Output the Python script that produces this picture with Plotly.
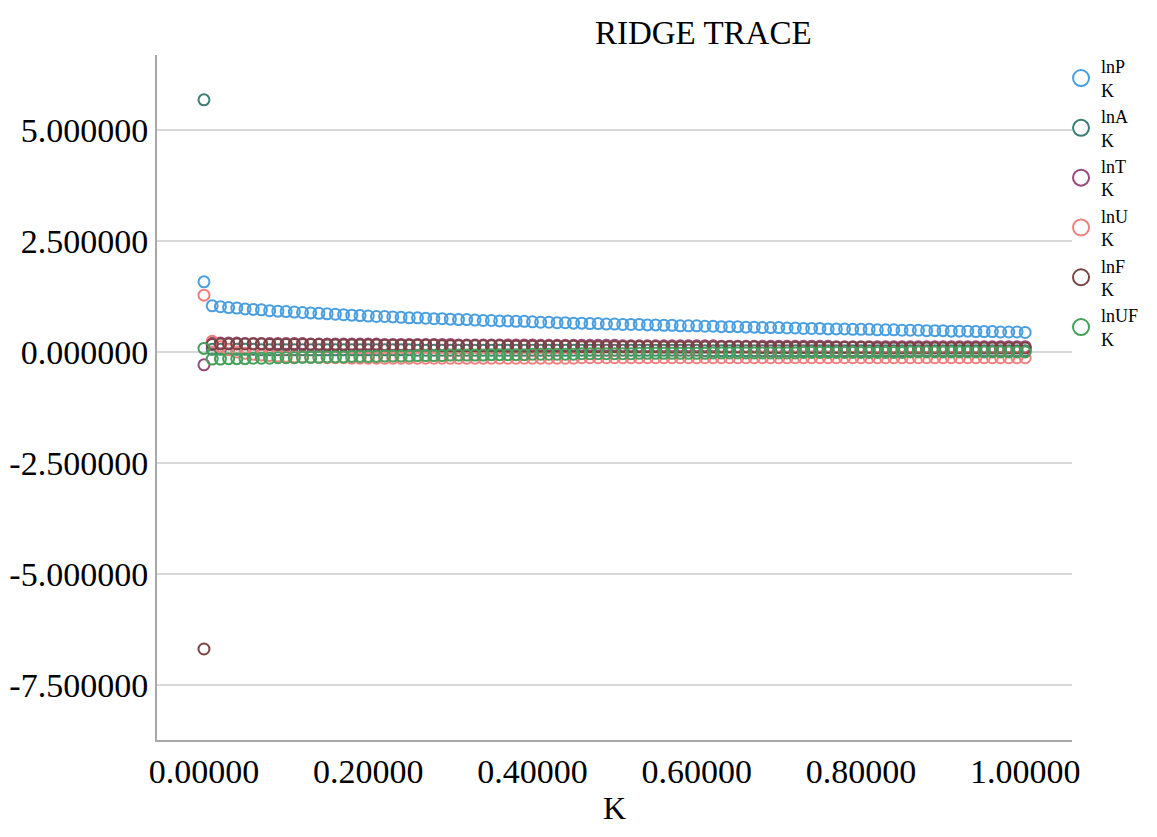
import plotly.graph_objects as go

K = [0.00, 0.01, 0.02, 0.03, 0.04, 0.05, 0.06, 0.07, 0.08, 0.09,
     0.10, 0.11, 0.12, 0.13, 0.14, 0.15, 0.16, 0.17, 0.18, 0.19,
     0.20, 0.21, 0.22, 0.23, 0.24, 0.25, 0.26, 0.27, 0.28, 0.29,
     0.30, 0.31, 0.32, 0.33, 0.34, 0.35, 0.36, 0.37, 0.38, 0.39,
     0.40, 0.41, 0.42, 0.43, 0.44, 0.45, 0.46, 0.47, 0.48, 0.49,
     0.50, 0.51, 0.52, 0.53, 0.54, 0.55, 0.56, 0.57, 0.58, 0.59,
     0.60, 0.61, 0.62, 0.63, 0.64, 0.65, 0.66, 0.67, 0.68, 0.69,
     0.70, 0.71, 0.72, 0.73, 0.74, 0.75, 0.76, 0.77, 0.78, 0.79,
     0.80, 0.81, 0.82, 0.83, 0.84, 0.85, 0.86, 0.87, 0.88, 0.89,
     0.90, 0.91, 0.92, 0.93, 0.94, 0.95, 0.96, 0.97, 0.98, 0.99,
     1.00]

lnP = [1.58,
       1.04, 1.02, 1.00, 0.99, 0.97, 0.96, 0.95, 0.93, 0.92, 0.91,
       0.90, 0.89, 0.88, 0.87, 0.86, 0.85, 0.84, 0.83, 0.82, 0.81,
       0.80, 0.80, 0.79, 0.78, 0.77, 0.77, 0.76, 0.75, 0.75, 0.74,
       0.73, 0.73, 0.72, 0.71, 0.71, 0.70, 0.70, 0.69, 0.69, 0.68,
       0.67, 0.67, 0.66, 0.66, 0.65, 0.65, 0.64, 0.64, 0.63, 0.63,
       0.62, 0.62, 0.62, 0.61, 0.61, 0.60, 0.60, 0.59, 0.59, 0.59,
       0.58, 0.58, 0.57, 0.57, 0.57, 0.56, 0.56, 0.55, 0.55, 0.55,
       0.54, 0.54, 0.53, 0.53, 0.53, 0.52, 0.52, 0.52, 0.51, 0.51,
       0.51, 0.50, 0.50, 0.50, 0.49, 0.49, 0.49, 0.48, 0.48, 0.48,
       0.47, 0.47, 0.47, 0.46, 0.46, 0.46, 0.45, 0.45, 0.45, 0.44]

lnA = [5.68,
       0.06, 0.06, 0.06, 0.06, 0.06, 0.06, 0.05, 0.05, 0.05, 0.05,
       0.05, 0.05, 0.05, 0.05, 0.05, 0.05, 0.05, 0.05, 0.05, 0.05,
       0.05, 0.05, 0.05, 0.05, 0.05, 0.04, 0.04, 0.04, 0.04, 0.04,
       0.04, 0.04, 0.04, 0.04, 0.04, 0.04, 0.04, 0.04, 0.04, 0.04,
       0.04, 0.04, 0.04, 0.04, 0.04, 0.04, 0.04, 0.04, 0.04, 0.04,
       0.04, 0.04, 0.04, 0.04, 0.04, 0.04, 0.04, 0.04, 0.04, 0.04,
       0.03, 0.03, 0.03, 0.03, 0.03, 0.03, 0.03, 0.03, 0.03, 0.03,
       0.03, 0.03, 0.03, 0.03, 0.03, 0.03, 0.03, 0.03, 0.03, 0.03,
       0.03, 0.03, 0.03, 0.03, 0.03, 0.03, 0.03, 0.03, 0.03, 0.03,
       0.03, 0.03, 0.03, 0.03, 0.03, 0.03, 0.03, 0.03, 0.03, 0.03]

lnT = [-0.29,
       0.20, 0.20, 0.20, 0.20, 0.19, 0.19, 0.19, 0.19, 0.19, 0.19,
       0.19, 0.19, 0.18, 0.18, 0.18, 0.18, 0.18, 0.18, 0.18, 0.18,
       0.18, 0.17, 0.17, 0.17, 0.17, 0.17, 0.17, 0.17, 0.17, 0.17,
       0.16, 0.16, 0.16, 0.16, 0.16, 0.16, 0.16, 0.16, 0.16, 0.16,
       0.15, 0.15, 0.15, 0.15, 0.15, 0.15, 0.15, 0.15, 0.15, 0.15,
       0.14, 0.14, 0.14, 0.14, 0.14, 0.14, 0.14, 0.14, 0.14, 0.14,
       0.14, 0.14, 0.13, 0.13, 0.13, 0.13, 0.13, 0.13, 0.13, 0.13,
       0.13, 0.13, 0.13, 0.13, 0.13, 0.13, 0.12, 0.12, 0.12, 0.12,
       0.12, 0.12, 0.12, 0.12, 0.12, 0.12, 0.12, 0.12, 0.12, 0.12,
       0.12, 0.12, 0.12, 0.12, 0.12, 0.12, 0.12, 0.12, 0.12, 0.12]

lnU = [1.28,
       0.24, 0.12, 0.05, 0.00, -0.03, -0.05, -0.07, -0.08, -0.09, -0.10,
       -0.11, -0.11, -0.12, -0.12, -0.13, -0.13, -0.13, -0.14, -0.14, -0.14,
       -0.14, -0.14, -0.14, -0.14, -0.14, -0.14, -0.14, -0.14, -0.14, -0.14,
       -0.14, -0.14, -0.14, -0.14, -0.14, -0.14, -0.14, -0.14, -0.14, -0.14,
       -0.14, -0.14, -0.14, -0.14, -0.14, -0.13, -0.13, -0.13, -0.13, -0.13,
       -0.13, -0.13, -0.13, -0.13, -0.13, -0.13, -0.13, -0.13, -0.13, -0.13,
       -0.13, -0.13, -0.13, -0.13, -0.13, -0.13, -0.13, -0.13, -0.13, -0.13,
       -0.13, -0.13, -0.13, -0.13, -0.13, -0.13, -0.13, -0.13, -0.13, -0.13,
       -0.13, -0.13, -0.13, -0.13, -0.13, -0.13, -0.13, -0.13, -0.13, -0.13,
       -0.13, -0.13, -0.13, -0.13, -0.13, -0.13, -0.13, -0.13, -0.13, -0.13]

lnF = [-6.69,
       0.17, 0.18, 0.18, 0.18, 0.18, 0.18, 0.18, 0.17, 0.17, 0.17,
       0.17, 0.17, 0.17, 0.17, 0.16, 0.16, 0.16, 0.16, 0.16, 0.16,
       0.16, 0.15, 0.15, 0.15, 0.15, 0.15, 0.15, 0.15, 0.14, 0.14,
       0.14, 0.14, 0.14, 0.14, 0.14, 0.14, 0.13, 0.13, 0.13, 0.13,
       0.13, 0.13, 0.13, 0.13, 0.13, 0.12, 0.12, 0.12, 0.12, 0.12,
       0.12, 0.12, 0.12, 0.12, 0.12, 0.11, 0.11, 0.11, 0.11, 0.11,
       0.11, 0.11, 0.11, 0.11, 0.11, 0.11, 0.11, 0.10, 0.10, 0.10,
       0.10, 0.10, 0.10, 0.10, 0.10, 0.10, 0.10, 0.10, 0.10, 0.10,
       0.10, 0.09, 0.09, 0.09, 0.09, 0.09, 0.09, 0.09, 0.09, 0.09,
       0.09, 0.09, 0.09, 0.09, 0.09, 0.09, 0.09, 0.09, 0.09, 0.09]

lnUF = [0.08,
        -0.16, -0.16, -0.15, -0.15, -0.15, -0.14, -0.14, -0.14, -0.13, -0.13,
        -0.13, -0.12, -0.12, -0.12, -0.11, -0.11, -0.11, -0.10, -0.10, -0.10,
        -0.10, -0.09, -0.09, -0.09, -0.09, -0.08, -0.08, -0.08, -0.08, -0.07,
        -0.07, -0.07, -0.07, -0.07, -0.06, -0.06, -0.06, -0.06, -0.06, -0.05,
        -0.05, -0.05, -0.05, -0.05, -0.05, -0.04, -0.04, -0.04, -0.04, -0.04,
        -0.04, -0.04, -0.03, -0.03, -0.03, -0.03, -0.03, -0.03, -0.03, -0.03,
        -0.03, -0.02, -0.02, -0.02, -0.02, -0.02, -0.02, -0.02, -0.02, -0.02,
        -0.02, -0.02, -0.01, -0.01, -0.01, -0.01, -0.01, -0.01, -0.01, -0.01,
        -0.01, -0.01, -0.01, -0.01, -0.01, 0.00, 0.00, 0.00, 0.00, 0.00,
        0.00, 0.00, 0.00, 0.00, 0.00, 0.00, 0.00, 0.00, 0.00, 0.00]

series_names = ["lnP", "lnA", "lnT", "lnU", "lnF", "lnUF"]
series_values = [lnP, lnA, lnT, lnU, lnF, lnUF]
series_colors = ["#4a9fe0", "#3d7d74", "#9b4a78", "#f08080", "#7a4343", "#45a05a"]

y_tick_vals = [5.0, 2.5, 0.0, -2.5, -5.0, -7.5]
y_tick_text = ["5.000000", "2.500000", "0.000000", "-2.500000", "-5.000000", "-7.500000"]
x_tick_vals = [0.0, 0.2, 0.4, 0.6, 0.8, 1.0]
x_tick_text = ["0.00000", "0.20000", "0.40000", "0.60000", "0.80000", "1.00000"]

FONT = "Liberation Serif, Times New Roman, serif"

fig = go.Figure()
for name, vals, col in zip(series_names, series_values, series_colors):
    # data marks
    fig.add_trace(go.Scatter(
        x=K, y=vals, mode="markers", name=name, showlegend=False,
        legendgroup=name,
        marker=dict(symbol="circle-open", size=11, color=col,
                    line=dict(width=2, color=col)),
    ))
    # legend entry with a larger symbol
    fig.add_trace(go.Scatter(
        x=[None], y=[None], mode="markers", name=name + "<br>K",
        legendgroup=name, showlegend=True,
        marker=dict(symbol="circle-open", size=16, color=col,
                    line=dict(width=2, color=col)),
    ))

fig.update_layout(
    width=1157, height=837,
    paper_bgcolor="white", plot_bgcolor="white",
    margin=dict(l=149, r=93, t=47, b=105),
    font=dict(family=FONT, color="black", size=34),
    title=dict(text="RIDGE TRACE", x=0.597, xref="paper", xanchor="center",
               y=0.971, yref="container", yanchor="middle",
               font=dict(family=FONT, size=33, color="black")),
    legend=dict(x=0.988, xanchor="left", y=1.01, yanchor="top",
                font=dict(family=FONT, size=18, color="black"),
                bgcolor="rgba(0,0,0,0)", itemsizing="trace",
                tracegroupgap=0, valign="middle"),
    xaxis=dict(range=[-0.0572, 1.057], tickvals=x_tick_vals, ticktext=x_tick_text,
               showgrid=False, zeroline=False, showline=True, linecolor="#a8a8a8",
               linewidth=2, ticks="", tickfont=dict(family=FONT, size=34),
               automargin=False,
               title=dict(text="K", font=dict(family=FONT, size=32), standoff=8)),
    yaxis=dict(range=[-8.74, 6.69], tickvals=y_tick_vals, ticktext=y_tick_text,
               showgrid=True, gridcolor="#d9d9d9", gridwidth=2, zeroline=False,
               showline=True, linecolor="#a8a8a8", linewidth=2, ticks="",
               automargin=False, tickfont=dict(family=FONT, size=34)),
)

fig.write_html("out.html")
